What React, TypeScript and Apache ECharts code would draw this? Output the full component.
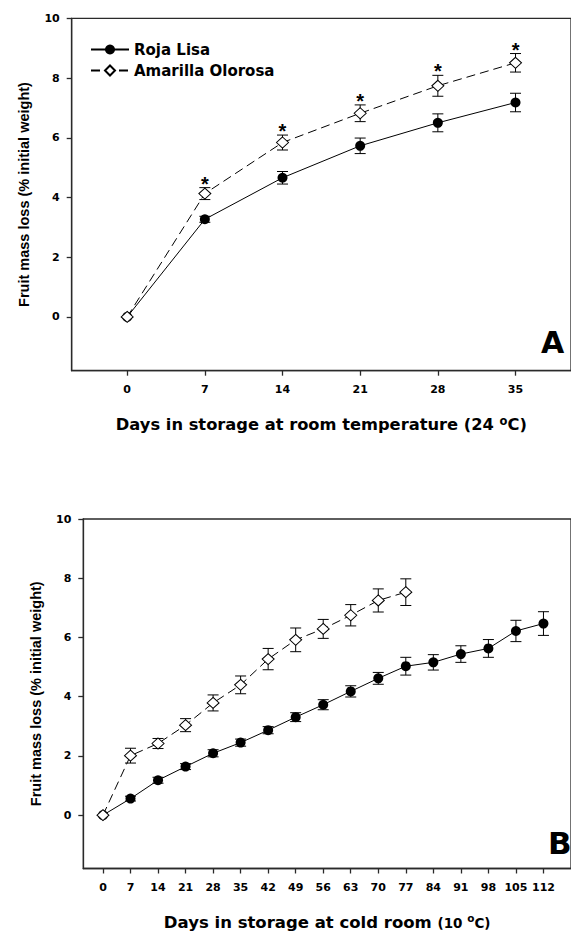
import React, { useEffect, useRef } from "react";
import * as echarts from "echarts";

// ---------- Data ----------
// Panel A: room temperature (24 °C)
const daysA = [0, 7, 14, 21, 28, 35];
const rojaA = [0, 3.27, 4.66, 5.73, 6.5, 7.18];
const rojaAErr = [0, 0.1, 0.21, 0.26, 0.3, 0.31];
const amaA = [0, 4.13, 5.84, 6.82, 7.74, 8.51];
const amaAErr = [0, 0.2, 0.25, 0.28, 0.35, 0.31];
const sigA = ["", "*", "*", "*", "*", "*"];

// Panel B: cold room (10 °C)
const daysBRoja = [0, 7, 14, 21, 28, 35, 42, 49, 56, 63, 70, 77, 84, 91, 98, 105, 112];
const rojaB = [0, 0.56, 1.18, 1.64, 2.09, 2.45, 2.87, 3.31, 3.73, 4.18, 4.62, 5.03, 5.16, 5.44, 5.63, 6.22, 6.47];
const rojaBErr = [0, 0.08, 0.1, 0.1, 0.12, 0.12, 0.12, 0.15, 0.17, 0.19, 0.2, 0.3, 0.26, 0.28, 0.3, 0.36, 0.4];
const daysBAma = [0, 7, 14, 21, 28, 35, 42, 49, 56, 63, 70, 77];
const amaB = [0, 2.01, 2.42, 3.04, 3.79, 4.4, 5.27, 5.92, 6.29, 6.75, 7.25, 7.53];
const amaBErr = [0, 0.25, 0.17, 0.22, 0.27, 0.3, 0.36, 0.4, 0.32, 0.36, 0.39, 0.45];

// Tick labels
const yTicks = [0, 2, 4, 6, 8, 10];
const xTicksA = [0, 7, 14, 21, 28, 35];
const xTicksB = [0, 7, 14, 21, 28, 35, 42, 49, 56, 63, 70, 77, 84, 91, 98, 105, 112];

const seriesNames = ["Roja Lisa", "Amarilla Olorosa"];
const yTitle = "Fruit mass loss (% initial weight)";

const FONT = '"DejaVu Sans", Verdana, sans-serif';
const FONT_V = '"Liberation Sans", Arial, Helvetica, sans-serif';
const AXIS_COLOR = "#2a2a2a";

const pairs = (xs: number[], ys: number[]) => xs.map((x, i) => [x, ys[i]]);
const triples = (xs: number[], ys: number[], es: number[]) => xs.map((x, i) => [x, ys[i], es[i]]);

function errorBarSeries(name: string, idx: number, data: number[][], sig?: string[]) {
  return {
    name,
    type: "custom",
    xAxisIndex: idx,
    yAxisIndex: idx,
    z: 1,
    encode: { x: 0, y: 1 },
    data,
    renderItem: (params: any, api: any) => {
      const x = api.value(0);
      const y = api.value(1);
      const e = api.value(2);
      const children: any[] = [];
      const hi = api.coord([x, y + e]);
      const lo = api.coord([x, y - e]);
      const hw = 5.5;
      const st = { stroke: "#000", lineWidth: 1 };
      if (e > 0) {
        children.push({ type: "line", shape: { x1: hi[0], y1: hi[1], x2: lo[0], y2: lo[1] }, style: st });
        children.push({ type: "line", shape: { x1: hi[0] - hw, y1: hi[1], x2: hi[0] + hw, y2: hi[1] }, style: st });
        children.push({ type: "line", shape: { x1: lo[0] - hw, y1: lo[1], x2: lo[0] + hw, y2: lo[1] }, style: st });
      }
      const s = sig ? sig[params.dataIndex] : "";
      if (s) {
        children.push({
          type: "text",
          x: hi[0],
          y: hi[1] - 4,
          style: {
            text: s,
            fontSize: 20,
            fontWeight: "bold",
            fontFamily: FONT_V,
            fill: "#000",
            align: "center",
            verticalAlign: "middle",
          },
        });
      }
      return { type: "group", children };
    },
  };
}

function lineSeries(name: string, idx: number, data: number[][], filled: boolean) {
  return {
    name,
    type: "line",
    xAxisIndex: idx,
    yAxisIndex: idx,
    z: 3,
    data,
    symbol: filled ? "circle" : "diamond",
    symbolSize: filled ? 10 : [12, 11],
    showSymbol: true,
    lineStyle: { color: "#000", width: 1, type: filled ? "solid" : [9, 5] },
    itemStyle: filled
      ? { color: "#000", borderColor: "#000", borderWidth: 0 }
      : { color: "#fff", borderColor: "#000", borderWidth: 1 },
  };
}

const axisLineStyle = { color: AXIS_COLOR, width: 1.3 };
const tickLabelStyle = { fontSize: 11, fontWeight: "bold" as const, color: "#000", fontFamily: FONT };

function xAxis(idx: number, max: number, ticks: number[], title: string, rich: any) {
  return {
    type: "value",
    gridIndex: idx,
    min: -5,
    max,
    splitLine: { show: false },
    axisLine: { show: true, onZero: false, lineStyle: axisLineStyle },
    axisTick: { show: true, customValues: ticks, length: 5, lineStyle: axisLineStyle },
    axisLabel: { customValues: ticks, margin: 13, ...tickLabelStyle },
    name: title,
    nameLocation: "middle",
    nameGap: 44,
    nameTextStyle: { rich },
  };
}

function yAxis(idx: number) {
  return {
    type: "value",
    gridIndex: idx,
    min: -1.8,
    max: 10,
    splitLine: { show: false },
    axisLine: { show: true, onZero: false, lineStyle: axisLineStyle },
    axisTick: { show: true, customValues: yTicks, length: 5, lineStyle: axisLineStyle },
    axisLabel: { customValues: yTicks, margin: 12, ...tickLabelStyle },
    name: yTitle,
    nameLocation: "middle",
    nameGap: 40,
    nameTextStyle: { fontSize: 14.5, fontWeight: "bold", color: "#000", fontFamily: FONT_V },
  };
}

const richA = {
  a: { fontSize: 16.3, lineHeight: 20, fontWeight: "bold", color: "#000", fontFamily: FONT },
  sup: { fontSize: 11.5, lineHeight: 9, fontWeight: "bold", color: "#000", fontFamily: FONT, verticalAlign: "top" },
};
const richB = {
  a: { fontSize: 16.5, lineHeight: 20, fontWeight: "bold", color: "#000", fontFamily: FONT },
  b: { fontSize: 13.5, lineHeight: 20, fontWeight: "bold", color: "#000", fontFamily: FONT },
  sup: { fontSize: 10.5, lineHeight: 10, fontWeight: "bold", color: "#000", fontFamily: FONT, verticalAlign: "top" },
};

export default function App() {
  const ref = useRef<HTMLDivElement>(null);
  useEffect(() => {
    if (!ref.current) return;
    const chart = echarts.init(ref.current, undefined, { renderer: "svg" });
    chart.setOption({
      animation: false,
      backgroundColor: "#fff",
      textStyle: { fontFamily: FONT },
      grid: [
        { left: 71.7, top: 18.3, width: 507, height: 352.4, show: true, borderColor: AXIS_COLOR, borderWidth: 1.3, backgroundColor: "transparent" },
        { left: 83.3, top: 519, width: 501.8, height: 352, show: true, borderColor: AXIS_COLOR, borderWidth: 1.3, backgroundColor: "transparent" },
      ],
      legend: {
        data: seriesNames,
        orient: "vertical",
        left: 90,
        top: 42,
        padding: 0,
        itemWidth: 38,
        itemHeight: 12.5,
        itemGap: 6,
        itemTextGap: 10,
        selectedMode: false,
        textStyle: { fontSize: 15, fontWeight: "bold", color: "#000", fontFamily: FONT },
      },
      xAxis: [
        xAxis(0, 40, xTicksA, "{a|Days in storage at room temperature (24 }{sup|o}{a|C)}", richA),
        xAxis(1, 119, xTicksB, "{a|Days in storage at cold room }{b|(10 }{sup|o}{b|C)}", richB),
      ],
      yAxis: [yAxis(0), yAxis(1)],
      graphic: [
        { type: "text", left: 541, top: 327, style: { text: "A", fontSize: 30, fontWeight: "bold", fill: "#000", fontFamily: FONT } },
        { type: "text", left: 548, top: 827, style: { text: "B", fontSize: 31, fontWeight: "bold", fill: "#000", fontFamily: FONT } },
      ],
      series: [
        errorBarSeries("Roja Lisa SE A", 0, triples(daysA, rojaA, rojaAErr)),
        errorBarSeries("Amarilla Olorosa SE A", 0, triples(daysA, amaA, amaAErr), sigA),
        lineSeries(seriesNames[0], 0, pairs(daysA, rojaA), true),
        lineSeries(seriesNames[1], 0, pairs(daysA, amaA), false),
        errorBarSeries("Roja Lisa SE B", 1, triples(daysBRoja, rojaB, rojaBErr)),
        errorBarSeries("Amarilla Olorosa SE B", 1, triples(daysBAma, amaB, amaBErr)),
        lineSeries(seriesNames[0], 1, pairs(daysBRoja, rojaB), true),
        lineSeries(seriesNames[1], 1, pairs(daysBAma, amaB), false),
      ],
    });
    return () => chart.dispose();
  }, []);
  return (
    <div
      ref={ref}
      style={{ position: "absolute", left: 0, top: 0, width: 571, height: 932, overflow: "hidden" }}
    />
  );
}
